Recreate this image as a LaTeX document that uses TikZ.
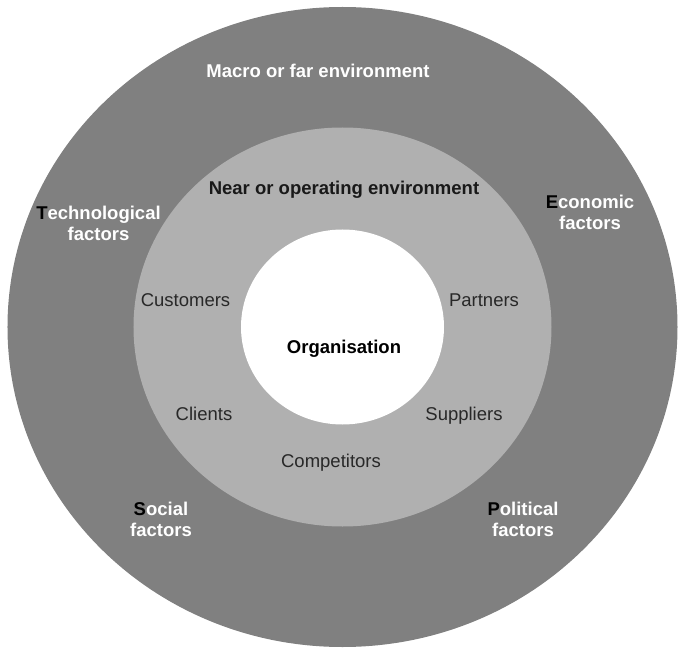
\documentclass[tikz,border=0pt]{standalone}
\usepackage{fontspec}
\setmainfont{Liberation Sans}
\usetikzlibrary{shapes.geometric,positioning}
\definecolor{macrogray}{RGB}{128,128,128}
\definecolor{neargray}{RGB}{176,176,176}
\definecolor{labelgray}{RGB}{40,40,40}

\begin{document}
\begin{tikzpicture}[x=1pt,y=1pt,
ring/.style={ellipse,inner sep=0pt},
far/.style={font=\fontsize{18.5}{21}\selectfont\bfseries,text=white,align=center},
near/.style={font=\fontsize{18.5}{21}\selectfont,text=labelgray,text height=0.72em,text depth=0.21em},
head/.style={font=\fontsize{18.5}{21}\selectfont\bfseries,text=black!90,text height=0.72em,text depth=0.21em}]
\useasboundingbox (-342.5,-329) rectangle (342.5,327);
% the three rings
\node[ring,fill=macrogray,minimum width=670pt,minimum height=640pt] (Macro) at (0,0) {};
\node[ring,fill=neargray,minimum width=418pt,minimum height=399pt] (Near) at (0,0) {};
\node[ring,fill=white,minimum width=203pt,minimum height=195pt] (Org) at (0,0) {};
% macro environment
\node[far] (MacroLbl) at (-24.5,256) {Macro or far environment};
\node[far] (T) at (-244,104) {\textcolor{black}{T}echnological\\factors};
\node[far] (E) at (247.5,114.5) {\textcolor{black}{E}conomic\\factors};
\node[far] (S) at (-181.5,-192) {\textcolor{black}{S}ocial\\factors};
\node[far] (P) at (180.5,-192) {\textcolor{black}{P}olitical\\factors};
% near environment
\node[head] (NearLbl) at (1.5,135.5) {Near or operating environment};
\node[near] (Cust) at (-157,23.5) {Customers};
\node[near] (Part) at (141.5,23.5) {Partners};
\node[near] (Cli) at (-138.5,-90.5) {Clients};
\node[near] (Supp) at (121.5,-90.5) {Suppliers};
\node[near] (Comp) at (-11.5,-138) {Competitors};
% organisation
\node[head,text=black] (OrgLbl) at (1.5,-23.5) {Organisation};
\end{tikzpicture}
\end{document}
